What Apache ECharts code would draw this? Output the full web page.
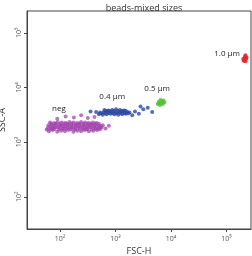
<!DOCTYPE html>
<html>
<head>
    <meta charset="utf-8">
    <title>ECharts</title>
    <script src="https://cdn.jsdelivr.net/npm/echarts@6/dist/echarts.min.js"></script>
</head>
<body style="margin:0">
    <div id="main" style="width:252px;height:256px;"></div>
    <script type="text/javascript">
        // values are log10 of the signal: [FSC-H, SSC-A]
        var negPoints = [
            [1.80,3.20],[1.87,3.22],[1.95,3.19],[2.02,3.21],[2.09,3.20],[2.16,3.22],[2.24,3.19],[2.31,3.21],[2.38,3.20],[2.45,3.22],[2.52,3.20],[2.60,3.21],[2.67,3.22],
            [1.83,3.235],[1.90,3.24],[1.98,3.23],[2.05,3.24],[2.12,3.235],[2.20,3.24],[2.27,3.23],[2.35,3.24],[2.42,3.235],[2.49,3.24],[2.57,3.23],[2.64,3.24],[2.72,3.235],
            [1.78,3.26],[1.85,3.25],[1.92,3.27],[1.99,3.26],[2.06,3.25],[2.13,3.27],[2.20,3.26],[2.27,3.25],[2.34,3.27],[2.41,3.26],[2.48,3.25],[2.55,3.27],[2.62,3.26],[2.69,3.25],[2.75,3.27],
            [1.82,3.285],[1.89,3.29],[1.96,3.28],[2.03,3.29],[2.10,3.285],[2.17,3.29],[2.24,3.28],[2.31,3.29],[2.38,3.285],[2.45,3.29],[2.52,3.28],[2.59,3.29],[2.66,3.285],[2.73,3.29],
            [1.79,3.31],[1.86,3.30],[1.93,3.32],[2.00,3.31],[2.07,3.30],[2.14,3.32],[2.21,3.31],[2.28,3.30],[2.35,3.32],[2.42,3.31],[2.49,3.30],[2.56,3.32],[2.63,3.31],[2.70,3.30],[2.77,3.31],
            [1.84,3.335],[1.92,3.34],[2.00,3.33],[2.07,3.34],[2.14,3.335],[2.21,3.34],[2.28,3.33],[2.35,3.34],[2.42,3.335],[2.49,3.34],[2.56,3.33],[2.63,3.34],[2.70,3.335],
            [1.82,3.36],[1.89,3.35],[1.96,3.37],[2.03,3.36],[2.10,3.35],[2.17,3.37],[2.24,3.36],[2.31,3.35],[2.38,3.37],[2.45,3.36],[2.52,3.35],[2.59,3.36],[2.66,3.35],
            [2.10,3.47],[2.25,3.45],[2.38,3.49],[2.50,3.44],[1.95,3.43],[2.62,3.46],[2.82,3.25],[2.88,3.30],[1.76,3.23]
        ];
        var bead04Points = [
            [2.70,3.51],[2.77,3.50],[2.84,3.51],[2.91,3.52],[2.98,3.51],[3.05,3.50],[3.12,3.51],[3.19,3.52],
            [2.74,3.53],[2.81,3.53],[2.88,3.535],[2.95,3.53],[3.02,3.53],[3.09,3.535],[3.16,3.53],[3.23,3.53],
            [2.65,3.55],[2.72,3.54],[2.79,3.55],[2.86,3.56],[2.93,3.55],[3.00,3.54],[3.07,3.55],[3.14,3.56],[3.21,3.55],[3.25,3.54],
            [2.83,3.57],[2.90,3.57],[2.97,3.575],[3.04,3.57],[3.11,3.57],[3.18,3.575],
            [2.80,3.59],[2.87,3.58],[2.94,3.59],[3.01,3.60],[3.08,3.59],[3.15,3.58],
            [3.35,3.56],[3.42,3.52],[3.50,3.60],[3.58,3.63],[3.66,3.55],[3.45,3.65],[2.55,3.56],[3.30,3.49]
        ];
        var bead05Points = [
            [3.76,3.70],[3.80,3.68],[3.85,3.70],[3.88,3.73],[3.83,3.74],[3.78,3.74],[3.81,3.77],[3.86,3.76],[3.79,3.71],[3.84,3.72]
        ];
        var bead10Points = [
            [5.31,4.49],[5.34,4.48],[5.35,4.52],[5.32,4.53],[5.33,4.56],[5.36,4.55],[5.30,4.52],[5.34,4.59]
        ];
        var groupNames = ["neg", "0.4 µm", "0.5 µm", "1.0 µm"];
        var labelSpots = [[1.98, 3.61], [2.94, 3.83], [3.75, 3.97], [5.01, 4.61]];
        var tickValues = [2, 3, 4, 5];
        var supers = {2: "²", 3: "³", 4: "⁴", 5: "⁵"};

        var font = "Open Sans";
        function powLabel(v) {
            return "10" + supers[v];
        }

        function cloud(name, data, color, size, opacity, idx) {
            return {
                name: name,
                type: "scatter",
                data: data,
                symbolSize: size,
                itemStyle: { color: color, opacity: opacity },
                markPoint: {
                    symbol: "circle",
                    symbolSize: 0,
                    data: [{ coord: labelSpots[idx], value: name }],
                    label: {
                        show: true,
                        position: "inside",
                        formatter: name,
                        color: "#222",
                        fontSize: 8,
                        fontFamily: font
                    }
                }
            };
        }

        var myChart = echarts.init(document.getElementById("main"));
        var option = {
            animation: false,
            title: {
                text: "beads-mixed sizes",
                left: 139,
                textAlign: "center",
                top: -1,
                textStyle: { fontSize: 9, fontWeight: "normal", color: "#333", fontFamily: font }
            },
            grid: {
                left: 27, right: 1, top: 11, bottom: 27,
                outerBoundsMode: "none",
                containLabel: false,
                show: true, borderColor: "#444", borderWidth: 1
            },
            xAxis: {
                type: "value",
                min: 1.405,
                max: 5.44,
                name: "FSC-H",
                nameLocation: "middle",
                nameGap: 18,
                nameTextStyle: { fontSize: 9, color: "#333", fontFamily: font },
                axisLine: { lineStyle: { color: "#444" } },
                axisTick: { length: 3, customValues: tickValues, lineStyle: { color: "#444" } },
                axisLabel: { customValues: tickValues, formatter: powLabel, fontSize: 7, color: "#555", margin: 6, fontFamily: font },
                splitLine: { show: false }
            },
            yAxis: {
                type: "value",
                min: 1.41,
                max: 5.40,
                name: "SSC-A",
                nameLocation: "middle",
                nameGap: 14,
                nameTextStyle: { fontSize: 9, color: "#333", fontFamily: font },
                axisLine: { lineStyle: { color: "#444" } },
                axisTick: { length: 3, customValues: tickValues, lineStyle: { color: "#444" } },
                axisLabel: { customValues: tickValues, formatter: powLabel, fontSize: 7, color: "#555", margin: 5, rotate: 90, fontFamily: font },
                splitLine: { show: false }
            },
            series: [
                cloud(groupNames[0], negPoints, "#9f40aa", 4, 0.72, 0),
                cloud(groupNames[1], bead04Points, "#2c4aa2", 4, 0.8, 1),
                cloud(groupNames[2], bead05Points, "#55c035", 4, 0.85, 2),
                cloud(groupNames[3], bead10Points, "#e5262b", 4, 0.9, 3)
            ]
        };
        myChart.setOption(option);
    </script>
</body>
</html>
